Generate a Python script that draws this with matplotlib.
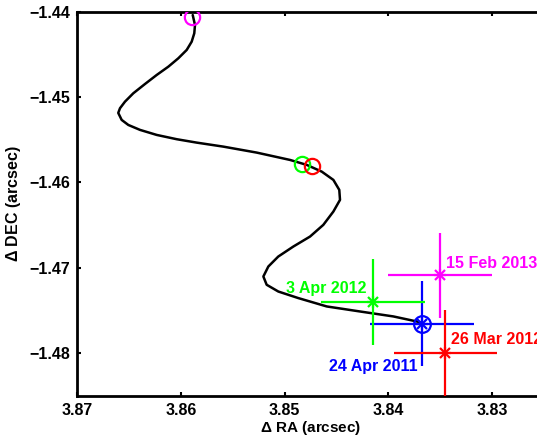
import numpy as np
import matplotlib
matplotlib.use("Agg")
import matplotlib.pyplot as plt

plt.rcParams['font.family'] = ['Liberation Sans', 'DejaVu Sans']
plt.rcParams['font.weight'] = 'bold'
plt.rcParams['mathtext.default'] = 'regular'

# orbit track (RA, DEC offsets in arcsec)
track_ra = [3.85887, 3.85865, 3.85872, 3.85897, 3.85945, 3.86026, 3.86122, 3.86234,
            3.86347, 3.8646, 3.8654, 3.86588, 3.86605, 3.86572, 3.86508, 3.86395,
            3.86234, 3.86042, 3.85849, 3.85592, 3.8527, 3.84949, 3.84788, 3.84643,
            3.84531, 3.84474, 3.84467, 3.84531, 3.84628, 3.84756, 3.84917, 3.85062,
            3.85158, 3.85206, 3.85174, 3.85062, 3.84869, 3.84595, 3.84274, 3.83953,
            3.83727, 3.83669]
track_dec = [-1.44039, -1.44156, -1.44253, -1.44351, -1.44448, -1.44546, -1.44644, -1.44741,
             -1.44847, -1.44956, -1.45054, -1.45131, -1.45186, -1.45268, -1.45327, -1.45385,
             -1.45444, -1.45494, -1.45534, -1.45581, -1.45651, -1.45737, -1.45795, -1.45874,
             -1.45971, -1.46088, -1.46205, -1.46342, -1.46498, -1.46635, -1.46752, -1.46869,
             -1.46986, -1.47103, -1.472, -1.47279, -1.47356, -1.47454, -1.47513, -1.47571,
             -1.4763, -1.47651]

# predicted positions on the track (open circles)
pred_ra = [3.8589, 3.8483, 3.8474]
pred_dec = [-1.4406, -1.4578, -1.4581]
pred_col = ['#ff00ff', '#00ff00', '#ff0000']

# measured positions
obs_labels = ['24 Apr 2011', '3 Apr 2012', '26 Mar 2012', '15 Feb 2013']
obs_ra = [3.8368, 3.8415, 3.8345, 3.8350]
obs_dec = [-1.47657, -1.4740, -1.4800, -1.4709]
obs_err = [0.005, 0.005, 0.005, 0.005]
obs_col = ['#0000ff', '#00ff00', '#ff0000', '#ff00ff']

fig = plt.figure(figsize=(5.37, 4.37), dpi=100)
ax = fig.add_axes([0.1439, 0.0945, 0.8692, 0.8787])

ax.plot(track_ra, track_dec, color='k', lw=1.8, zorder=2,
        solid_joinstyle='round', solid_capstyle='round')
for x, y, c in zip(pred_ra, pred_dec, pred_col):
    ax.plot(x, y, 'o', mfc='none', mec=c, mew=1.6, ms=11, zorder=3)

for i in range(len(obs_ra)):
    c = obs_col[i]
    ax.errorbar(obs_ra[i], obs_dec[i], xerr=obs_err[i], yerr=obs_err[i], fmt='none',
                ecolor=c, elinewidth=1.6, capsize=0, zorder=4)
    ax.plot(obs_ra[i], obs_dec[i], '+', color=c, ms=9, mew=1.6, zorder=5)
    ax.plot(obs_ra[i], obs_dec[i], 'x', color=c, ms=7, mew=1.6, zorder=5)
ax.plot(obs_ra[0], obs_dec[0], 'o', mfc='none', mec=obs_col[0], mew=1.6, ms=12, zorder=5)

tk = dict(fontsize=11.5, fontweight='bold')
ax.text(3.84216, -1.47297, obs_labels[1], color=obs_col[1], ha='right', va='baseline', **tk)
ax.text(3.83447, -1.47005, obs_labels[3], color=obs_col[3], ha='left', va='baseline', **tk)
ax.text(3.83396, -1.47891, obs_labels[2], color=obs_col[2], ha='left', va='baseline', **tk)
ax.text(3.83717, -1.48215, obs_labels[0], color=obs_col[0], ha='right', va='baseline', **tk)

ax.set_xlim(3.87, 3.825)
ax.set_ylim(-1.485, -1.44)
ax.set_xticks([3.87, 3.86, 3.85, 3.84, 3.83])
ax.set_yticks([-1.44, -1.45, -1.46, -1.47, -1.48])
ax.tick_params(direction='in', length=3, width=1.5, top=True, right=True,
               labelsize=11.5, pad=5)
for lab in ax.get_xticklabels() + ax.get_yticklabels():
    lab.set_fontweight('bold')
for s in ax.spines.values():
    s.set_linewidth(2)

ax.set_xlabel(r'$\Delta$ RA (arcsec)', fontsize=11, fontweight='bold', labelpad=1)
ax.set_ylabel(r'$\Delta$ DEC (arcsec)', fontsize=11.5, fontweight='bold', labelpad=5)

fig.savefig('out.png', dpi=100)
